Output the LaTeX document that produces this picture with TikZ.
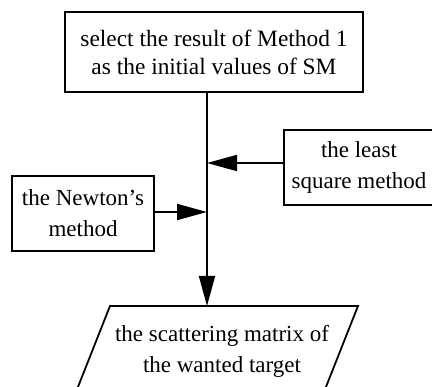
\documentclass[tikz,border=0pt]{standalone}
\usepackage{fontspec}
\setmainfont{Liberation Serif}
\usetikzlibrary{arrows.meta,calc}
\begin{document}
\begin{tikzpicture}[x=1pt,y=-1pt,
  box/.style={draw,line width=1.8pt,inner sep=0pt,align=center},
  fa/.style={font=\fontsize{23.4}{28}\selectfont},
  fb/.style={font=\fontsize{23}{31}\selectfont},
  conn/.style={line width=1.8pt,-{Triangle[length=30pt,width=16pt]}}]
\useasboundingbox (0,0) rectangle (432,387);
\clip (0,0) rectangle (432,387);
\node[box,fa,minimum width=298pt,minimum height=80pt] (top) at (214,52) {select the result of Method 1\\as the initial values of SM};
\node[box,fb,minimum width=150pt,minimum height=75pt] (lsq) at (359,167.5) {the least\\square method};
\node[box,fb,minimum width=142pt,minimum height=75pt] (newton) at (83,213.5) {the Newton's\\method};
\coordinate (j1) at (207,163);
\coordinate (j2) at (207,212);
\coordinate (ptop) at (207,306);
\coordinate (pa) at (110,306);
\coordinate (pb) at (358,306);
\coordinate (pc) at (326,387);
\coordinate (pd) at (78,387);
\draw[line width=1.8pt] (pa) -- (pb) -- ($(pc)+(-4,10)$) -- ($(pd)+(-4,10)$) -- cycle;
\node[fb,inner sep=0pt,align=center] (para) at (222,351) {the scattering matrix of\\the wanted target};
\draw[conn] (top.south -| ptop) -- (ptop);
\draw[conn] (lsq.west |- j1) -- (j1);
\draw[conn] (newton.east |- j2) -- (j2);
\end{tikzpicture}
\end{document}
